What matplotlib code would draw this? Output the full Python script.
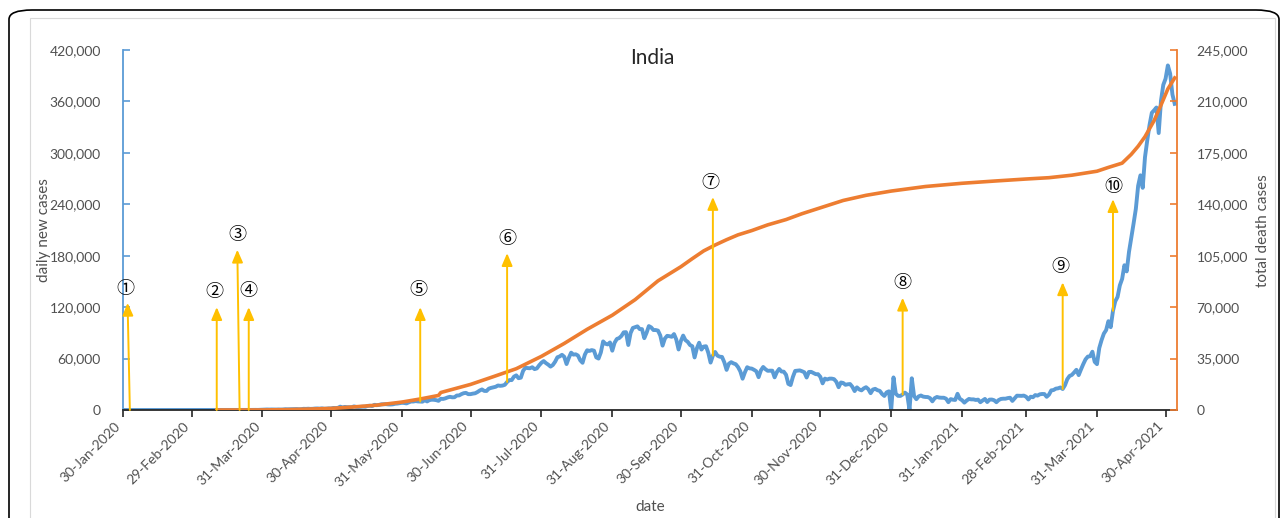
import numpy as np
import pandas as pd
import matplotlib
matplotlib.use("Agg")
import matplotlib.pyplot as plt
import matplotlib.dates as mdates
from matplotlib.patches import FancyBboxPatch
from matplotlib.ticker import FuncFormatter

plt.rcParams['font.family'] = ['Lato', 'DejaVu Sans']

# ---------------- data (daily new cases, thousands) ----------------
start_date = "2020-01-30"
jan20 = [0, 0]
feb20 = [0, 0, 0, 0, 0, 0, 0, 0, 0, 0, 0, 0, 0, 0, 0, 0, 0, 0, 0, 0,
         0, 0, 0, 0, 0, 0, 0, 0, 0]
mar20 = [0, 0.002, 0.001, 0.022, 0.001, 0.001, 0.003, 0.005, 0.009, 0.015,
         0.002, 0.011, 0.007, 0.019, 0.006, 0.023, 0.012, 0.014, 0.057, 0.058,
         0.075, 0.09, 0.08, 0.11, 0.09, 0.09, 0.16, 0.15, 0.12, 0.23, 0.3]
apr20 = [0.4, 0.6, 0.5, 0.6, 0.5, 0.5, 0.6, 0.5, 0.6, 0.9,
         0.8, 0.9, 1.0, 1.0, 1.1, 0.9, 1.0, 1.4, 1.3, 1.5,
         1.3, 1.4, 1.7, 1.8, 1.6, 1.9, 1.5, 1.6, 1.9, 1.8]
may20 = [2.4, 2.3, 2.5, 3.9, 3.0, 3.6, 3.3, 3.3, 3.2, 4.2,
         3.6, 3.5, 3.7, 3.9, 3.8, 4.8, 5.0, 4.6, 6.1, 5.6,
         6.0, 6.6, 6.7, 6.8, 6.5, 6.4, 6.6, 7.3, 7.5, 8.0, 8.4]
jun20 = [8.2, 7.7, 8.9, 9.9, 9.9, 10.4, 10.0, 9.9, 9.7, 11.5,
         10.0, 11.5, 12.0, 11.9, 11.5, 10.7, 13.1, 12.9, 13.6, 14.7,
         15.4, 14.8, 14.9, 16.9, 17.0, 18.5, 19.6, 20.0, 18.5, 18.5]
jul20 = [19.1, 19.5, 20.9, 22.7, 24.0, 22.3, 22.2, 24.9, 25.8, 26.5,
         27.1, 28.6, 28.2, 28.5, 29.4, 32.7, 34.9, 34.9, 38.9, 40.4,
         37.1, 37.7, 45.7, 49.3, 48.9, 48.7, 49.9, 47.7, 48.5, 52.1, 55.1]
aug20 = [57.1, 54.7, 52.9, 50.6, 52.5, 56.3, 61.5, 62.5, 64.4, 62.1,
         53.6, 60.9, 66.9, 64.6, 65.0, 63.5, 57.9, 55.1, 64.5, 69.7,
         68.9, 69.9, 69.2, 61.4, 60.0, 67.2, 80.0, 77.3, 76.5, 78.8, 69.2]
sep20 = [78.4, 82.9, 83.9, 86.4, 90.6, 90.8, 75.8, 89.7, 95.7, 96.6,
         97.6, 94.4, 94.4, 83.8, 90.1, 97.9, 96.4, 93.3, 93.3, 92.6,
         86.9, 75.1, 83.3, 86.5, 86.1, 85.4, 88.6, 82.2, 70.6, 80.5]
oct20 = [86.8, 81.5, 79.5, 75.8, 74.4, 61.3, 72.0, 78.5, 70.5, 74.0,
         74.4, 66.7, 55.3, 63.5, 67.7, 63.4, 62.2, 61.9, 55.7, 46.8,
         54.0, 55.8, 54.4, 53.4, 50.1, 45.1, 36.5, 43.9, 49.9, 48.6, 48.3]
nov20 = [46.9, 45.2, 38.3, 46.2, 50.2, 47.6, 45.7, 45.9, 45.9, 38.1,
         44.3, 47.9, 44.9, 44.7, 41.1, 30.5, 29.1, 38.6, 45.6, 45.9,
         46.2, 45.2, 44.0, 37.9, 44.4, 44.5, 43.1, 41.8, 41.8, 38.7]
dec20 = [31.1, 36.6, 35.6, 36.6, 36.6, 36.0, 32.9, 26.6, 32.1, 31.5,
         29.4, 30.0, 30.3, 27.1, 22.1, 26.4, 24.0, 22.9, 25.2, 26.6,
         24.3, 19.6, 23.9, 24.7, 23.1, 22.3, 18.7, 16.4, 20.6, 21.8, 0]
jan21 = [38.0, 19.0, 16.5, 16.4, 18.1, 20.3, 18.1, 0, 37.0, 16.3,
         12.6, 15.9, 16.9, 15.6, 15.2, 15.1, 13.8, 10.1, 13.8, 15.2,
         14.5, 14.3, 14.3, 13.2, 9.1, 12.7, 12.0, 11.7, 18.9, 13.1, 11.4]
feb21 = [8.6, 11.0, 12.9, 12.4, 12.4, 11.7, 12.1, 9.1, 11.1, 12.9,
         9.3, 12.1, 12.2, 11.4, 9.1, 11.6, 12.9, 13.2, 13.2, 13.9,
         14.3, 10.6, 13.7, 16.7, 16.6, 16.5, 16.8, 15.5]
mar21 = [12.3, 15.5, 14.9, 17.4, 16.8, 18.3, 18.7, 18.6, 15.4, 17.9,
         22.9, 23.3, 24.9, 25.3, 26.3, 24.5, 28.9, 35.9, 39.7, 40.9,
         43.8, 46.9, 40.7, 47.3, 53.5, 59.1, 62.3, 62.7, 68.0, 56.2, 53.5]
apr21 = [72.3, 81.5, 89.1, 93.2, 103.6, 96.6, 115.7, 126.8, 131.9, 145.4,
         152.9, 168.9, 161.7, 184.4, 200.7, 217.4, 234.7, 261.5, 273.8, 259.2,
         295.0, 314.8, 332.7, 346.8, 349.7, 352.9, 323.1, 360.9, 379.3, 386.5]
may21 = [402.0, 392.5, 368.1, 357.2]

# ---------------- data (total deaths, thousands) ----------------
death_dates = ['2020-03-11', '2020-03-20', '2020-03-31', '2020-04-10', '2020-04-20',
               '2020-04-30', '2020-05-10', '2020-05-20', '2020-05-31', '2020-06-08',
               '2020-06-16', '2020-06-17', '2020-06-30', '2020-07-10', '2020-07-20',
               '2020-07-31', '2020-08-10', '2020-08-20', '2020-08-31', '2020-09-10',
               '2020-09-20', '2020-09-30', '2020-10-05', '2020-10-10', '2020-10-15',
               '2020-10-20', '2020-10-25', '2020-10-31', '2020-11-07', '2020-11-15',
               '2020-11-22', '2020-11-30', '2020-12-10', '2020-12-20', '2020-12-31',
               '2021-01-15', '2021-01-31', '2021-02-15', '2021-02-28', '2021-03-10',
               '2021-03-20', '2021-03-31', '2021-04-05', '2021-04-11', '2021-04-15',
               '2021-04-18', '2021-04-21', '2021-04-25', '2021-04-28', '2021-05-01',
               '2021-05-04']
deaths_k = [0, 0.004, 0.035, 0.24, 0.6,
            1.08, 2.1, 3.3, 5.4, 7.5,
            9.9, 11.9, 17.4, 22.7, 28.1,
            36.5, 45.3, 54.9, 64.5, 75.1,
            87.9, 97.5, 103.0, 108.3, 112.3,
            115.9, 119.2, 122.1, 126.0, 129.6,
            133.6, 137.6, 142.6, 146.1, 149.0,
            152.1, 154.3, 155.9, 157.2, 158.1,
            159.8, 162.5, 165.1, 168.0, 174.0,
            179.5, 186.0, 197.0, 207.5, 218.5,
            226.0]

tick_dates = ['2020-01-30', '2020-02-29', '2020-03-31', '2020-04-30', '2020-05-31',
              '2020-06-30', '2020-07-31', '2020-08-31', '2020-09-30', '2020-10-31',
              '2020-11-30', '2020-12-31', '2021-01-31', '2021-02-28', '2021-03-31',
              '2021-04-30']

# annotations: circled event numbers with arrows
event_labels = ['\u2460', '\u2461', '\u2462', '\u2463', '\u2464',
                '\u2465', '\u2466', '\u2467', '\u2468', '\u2469']
event_base_dates = ['2020-02-02', '2020-03-11', '2020-03-21', '2020-03-25', '2020-06-08',
                    '2020-07-16', '2020-10-14', '2021-01-05', '2021-03-16', '2021-04-07']
event_tip_dates = ['2020-02-01', '2020-03-11', '2020-03-20', '2020-03-25', '2020-06-08',
                   '2020-07-16', '2020-10-14', '2021-01-05', '2021-03-16', '2021-04-07']
event_label_dates = ['2020-01-31', '2020-03-10', '2020-03-20', '2020-03-25', '2020-06-07',
                     '2020-07-16', '2020-10-13', '2021-01-05', '2021-03-15', '2021-04-07']
event_on_curve = [False, False, False, False, True, True, True, True, True, True]
event_tip_k = [125, 120, 187, 120, 120, 183, 248.5, 131, 149, 246]
event_label_k = [141, 138, 204, 139, 140, 199.5, 265, 148, 167, 260]

# ---------------- build series ----------------
cases = np.array(jan20 + feb20 + mar20 + apr20 + may20 + jun20 + jul20 + aug20 + sep20
                 + oct20 + nov20 + dec20 + jan21 + feb21 + mar21 + apr21 + may21) * 1000
dates = pd.date_range(start_date, periods=len(cases), freq='D')
case_series = pd.Series(cases, index=dates)
d_dates = pd.to_datetime(death_dates)
deaths = np.array(deaths_k) * 1000

BLUE = '#5B9BD5'
ORANGE = '#ED7D31'
YELLOW = '#FFC000'
TXT = '#505050'

W, H = 1284, 518
fig = plt.figure(figsize=(W / 100, H / 100), dpi=100)
fig.patch.set_facecolor('white')

# outer rounded black border and inner gray frame
fig.patches.append(FancyBboxPatch((9 / W, -0.2), (1279 - 9) / W, 0.2 + (H - 10) / H,
                                  boxstyle='round,pad=0,rounding_size=0.018',
                                  transform=fig.transFigure, facecolor='none',
                                  edgecolor='black', linewidth=1.2, zorder=0))
fig.patches.append(plt.Rectangle((30 / W, -0.2), (1275 - 30) / W, 0.2 + (H - 18) / H,
                                 transform=fig.transFigure, facecolor='none',
                                 edgecolor='#D9D9D9', linewidth=0.8, zorder=0))

x0, x1, y0, y1 = 123, 1177, 50, 410
ax = fig.add_axes([x0 / W, 1 - y1 / H, (x1 - x0) / W, (y1 - y0) / H])
ax.patch.set_alpha(0)
ax2 = ax.twinx()

ax.plot(dates, cases, color=BLUE, lw=2.8, solid_joinstyle='round', zorder=2)
ax2.plot(d_dates, deaths, color=ORANGE, lw=2.6, solid_joinstyle='round', zorder=2)

ax.set_xlim(pd.Timestamp('2020-01-30'), pd.Timestamp('2021-05-05'))
ax.set_ylim(0, 420000)
ax2.set_ylim(0, 245000)
ax.set_yticks(np.arange(0, 420001, 60000))
ax2.set_yticks(np.arange(0, 245001, 35000))
fmt = FuncFormatter(lambda v, p: f'{v:,.0f}')
ax.yaxis.set_major_formatter(fmt)
ax2.yaxis.set_major_formatter(fmt)

tks = pd.to_datetime(tick_dates)
ax.set_xticks(tks)
ax.set_xticklabels([t.strftime('%d-%b-%Y') for t in tks], rotation=45, ha='right',
                   rotation_mode='default')

for a in (ax, ax2):
    a.spines['top'].set_visible(False)
ax.spines['right'].set_visible(False)
ax2.spines['left'].set_visible(False)
ax2.spines['bottom'].set_visible(False)
ax.spines['left'].set_color(BLUE)
ax.spines['left'].set_linewidth(1.3)
ax2.spines['right'].set_color(ORANGE)
ax2.spines['right'].set_linewidth(1.3)
ax.spines['bottom'].set_color('#262626')
ax.spines['bottom'].set_linewidth(1.3)

ax.tick_params(axis='y', direction='in', length=5, width=1.2, color=BLUE,
               labelsize=10, labelcolor=TXT, pad=16)
ax2.tick_params(axis='y', direction='in', length=5, width=1.2, color=ORANGE,
                labelsize=10, labelcolor=TXT, pad=14)
ax.tick_params(axis='x', direction='out', length=5, width=1.2, color='#262626',
               labelsize=10, labelcolor=TXT, pad=2)

# annotations (drawn on top of both lines)
for lab, bd, td, ld, oc, tip, lv in zip(event_labels, event_base_dates, event_tip_dates,
                                         event_label_dates, event_on_curve,
                                         event_tip_k, event_label_k):
    bdt = pd.Timestamp(bd)
    base = case_series[bdt] if oc else 0
    ax2.annotate('', xy=(mdates.date2num(pd.Timestamp(td)), tip * 1000),
                 xytext=(mdates.date2num(bdt), base),
                 xycoords=ax.transData, textcoords=ax.transData,
                 arrowprops=dict(arrowstyle='-|>,head_width=0.32,head_length=0.75',
                                 color=YELLOW, lw=1.4, shrinkA=0, shrinkB=0),
                 annotation_clip=False, zorder=5)
    ax2.text(mdates.date2num(pd.Timestamp(ld)), lv * 1000, lab, transform=ax.transData,
             ha='center', va='center', fontsize=13, color='black',
             family=['Noto Sans CJK SC', 'DejaVu Sans'], zorder=6)

fig.text(652 / W, 1 - 58 / H, 'India', ha='center', va='center', fontsize=15,
         color='#262626')
fig.text(44 / W, 1 - 230 / H, 'daily new cases', rotation=90, ha='center', va='center',
         fontsize=11, color=TXT)
fig.text(1263 / W, 1 - 231 / H, 'total death cases', rotation=90, ha='center',
         va='center', fontsize=11, color=TXT)
fig.text(650 / W, 1 - 507 / H, 'date', ha='center', va='center', fontsize=11, color=TXT)

fig.savefig('out.png', dpi=100, facecolor='white')
